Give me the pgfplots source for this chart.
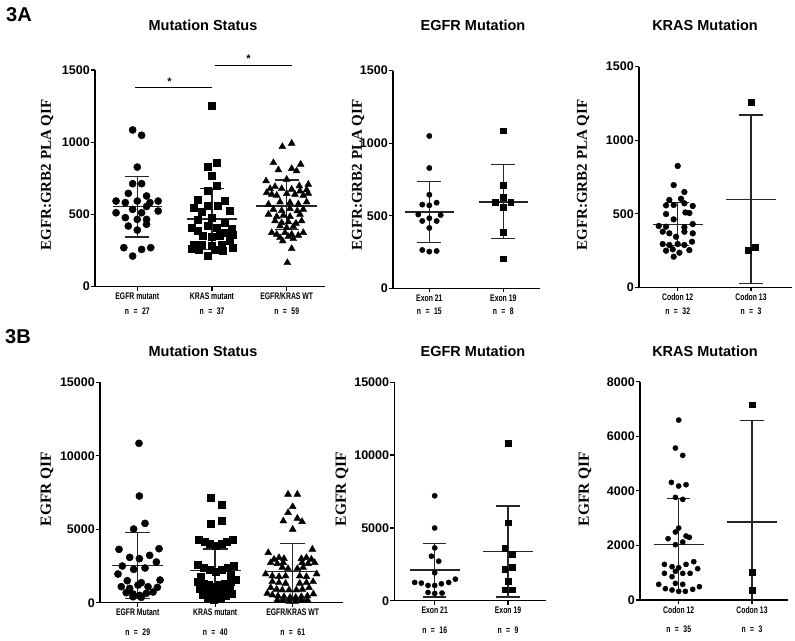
\documentclass[border=0pt]{standalone}
\usepackage{pgfplots}
\pgfplotsset{compat=1.18}
\usepackage{fontspec}
\setmainfont{Liberation Sans}
\newfontfamily\serifb{Liberation Serif}
\newfontfamily\narrow{Liberation Sans}[FakeStretch=0.72]
\newcommand{\nn}[1]{n\hspace{4.5pt}=\hspace{4.5pt}#1}
\pgfplotsset{
  panel/.style={scale only axis, clip=false, anchor=south west,
    axis x line=bottom, axis y line=left,
    axis line style={-, line width=1.3pt, black},
    tick align=outside, major tick length=4pt,
    tick style={line width=1.3pt, black},
    ymin=0, minor tick num=0, scaled y ticks=false,
    yticklabel style={font=\bfseries\fontsize{12.5}{13}\selectfont, inner sep=1pt},
    xticklabel style={font=\narrow\bfseries\fontsize{9.5}{9.5}\selectfont, align=center, anchor=north, inner sep=2pt},
    /pgf/number format/1000 sep={},
    /pgf/number format/assume math mode=true},
  circ/.style={only marks, mark=*, mark size=#1, black, mark options={fill=black}},
  sq/.style={only marks, mark=square*, mark size=#1, black, mark options={fill=black}},
  tri/.style={only marks, mark=triangle*, mark size=#1, black, mark options={fill=black}},
  eb/.style={line width=1.5pt, black!85, no markers}
}
\begin{document}
\begin{tikzpicture}[x=1pt,y=1pt]
\useasboundingbox (0,0) rectangle (795,640);
% ---------- labels ----------
\node[font=\bfseries\fontsize{20}{20}\selectfont] at (19,625) {3A};
\node[font=\bfseries\fontsize{20}{20}\selectfont] at (18,303) {3B};
\foreach \yy in {615,288.3}{
  \node[font=\bfseries\fontsize{14.5}{15}\selectfont] at (203,\yy) {Mutation Status};
  \node[font=\bfseries\fontsize{14.5}{15}\selectfont] at (473,\yy) {EGFR Mutation};
  \node[font=\bfseries\fontsize{14.5}{15}\selectfont] at (705,\yy) {KRAS Mutation};
}
\node[rotate=90, font=\serifb\bfseries\fontsize{15}{15}\selectfont] at (47,465) {EGFR:GRB2 PLA QIF};
\node[rotate=90, font=\serifb\bfseries\fontsize{15}{15}\selectfont] at (358,465) {EGFR:GRB2 PLA QIF};
\node[rotate=90, font=\serifb\bfseries\fontsize{15}{15}\selectfont] at (583,465) {EGFR:GRB2 PLA QIF};
\node[rotate=90, font=\serifb\bfseries\fontsize{15.5}{15}\selectfont] at (47,151) {EGFR QIF};
\node[rotate=90, font=\serifb\bfseries\fontsize{15.5}{15}\selectfont] at (342,151) {EGFR QIF};
\node[rotate=90, font=\serifb\bfseries\fontsize{15.5}{15}\selectfont] at (585,151) {EGFR QIF};

% ================= 3A Mutation Status =================
\begin{axis}[panel, at={(95pt,353.3pt)}, width=230pt, height=216.7pt,
  xmin=0.434, xmax=3.513, ymax=1500, ytick={0,500,1000,1500},
  xtick={1,2,3},
  xticklabels={{EGFR mutant\\[5pt]\nn{27}},{KRAS mutant\\[5pt]\nn{37}},{EGFR/KRAS WT\\[5pt]\nn{59}}}]
\addplot[circ=3.6pt] coordinates {
(0.938,1085) (1.058,1048) (1.0,828) (0.938,713) (1.058,713) (0.88,646) (1.124,628)
(0.716,593) (0.84,582) (1.0,593) (1.169,582) (1.28,593) (0.716,512) (0.938,535)
(1.058,512) (1.28,524) (0.84,478) (1.0,466) (1.124,466) (0.88,420) (1.124,432)
(1.0,392) (0.82,270) (1.058,258) (1.18,270) (0.938,212) (1.124,555)};
\addplot[sq=3.5pt] coordinates {
(2.0,1255) (2.058,858) (1.938,831) (2.0,766) (2.058,702) (1.947,662) (1.813,605)
(2.169,593) (1.751,545) (1.938,558) (2.08,558) (2.236,524) (1.867,517) (2.0,478)
(1.813,466) (2.169,443) (1.724,408) (1.938,420) (2.058,408) (2.258,401) (1.813,385)
(2.169,374) (1.88,351) (2.0,346) (2.102,351) (2.236,316) (1.756,293) (1.867,293)
(2.124,293) (2.0,282) (1.724,265) (2.28,270) (1.822,254) (2.036,254) (1.947,217)
(2.147,247) (2.28,362)};
\addplot[tri=4pt] coordinates {
(2.942,969) (3.067,992) (2.822,858) (3.187,847) (2.889,808) (3.067,817) (3.133,801)
(2.724,732) (3.0,743) (3.169,697) (3.289,708)
(2.778,678) (2.844,692) (2.933,678) (3.067,674) (3.178,662) (3.267,669)
(2.733,651) (2.8,639) (2.867,632) (3.0,644) (3.111,639) (3.222,632) (3.289,646)
(2.756,570) (2.911,586) (3.044,582) (3.156,572) (3.267,586)
(2.822,535) (2.933,526) (3.044,540) (3.142,524) (3.222,535)
(2.756,501) (2.867,485) (2.956,494) (3.044,485) (3.178,501)
(2.844,455) (2.933,443) (3.022,448) (3.124,438) (3.2,455)
(2.911,420) (3.0,408) (3.089,415)
(2.8,374) (2.867,362) (2.978,374) (3.067,362) (3.156,355) (3.222,374)
(2.911,339) (3.022,346) (3.089,332) (2.947,316) (3.067,263) (3.009,166)};
% mean and SD
\addplot[eb] coordinates {(0.67,554) (1.33,554)};
\addplot[eb] coordinates {(1,344) (1,762)};
\addplot[eb] coordinates {(0.84,762) (1.16,762)};
\addplot[eb] coordinates {(0.84,344) (1.16,344)};
\addplot[eb] coordinates {(1.67,468) (2.33,468)};
\addplot[eb] coordinates {(2,256) (2,681)};
\addplot[eb] coordinates {(1.84,681) (2.16,681)};
\addplot[eb] coordinates {(1.84,256) (2.16,256)};
\addplot[eb] coordinates {(2.59,558) (3.41,558)};
\addplot[eb] coordinates {(3,397) (3,738)};
\addplot[eb] coordinates {(2.84,738) (3.16,738)};
\addplot[eb] coordinates {(2.84,397) (3.16,397)};
% significance
\addplot[line width=1pt, black, no markers] coordinates {(0.969,1378) (2.0,1378)};
\addplot[line width=1pt, black, no markers] coordinates {(2.036,1532) (3.076,1532)};
\node[font=\bfseries\fontsize{11}{11}\selectfont] at (axis cs:1.43,1420) {*};
\node[font=\bfseries\fontsize{11}{11}\selectfont] at (axis cs:2.49,1575) {*};
\end{axis}

% ================= 3A EGFR Mutation =================
\begin{axis}[panel, at={(393pt,351.7pt)}, width=147pt, height=217.6pt,
  xmin=0.509, xmax=2.496, ymax=1500, ytick={0,500,1000,1500},
  xtick={1,2},
  xticklabels={{Exon 21\\[4pt]\nn{15}},{Exon 19\\[4pt]\nn{8}}}]
\addplot[circ=2.7pt] coordinates {
(1.0,1050) (1.0,829) (1.0,645) (0.905,577) (1.0,572) (1.099,590) (0.851,509)
(1.153,505) (0.905,464) (1.0,483) (1.099,464) (1.0,416) (0.905,264) (1.0,253) (1.099,257)};
\addplot[sq=2.8pt] coordinates {
(2.0,1087) (2.0,710) (2.0,627) (1.892,595) (2.099,595) (2.0,560) (2.0,385) (2.0,205)};
\addplot[eb] coordinates {(0.67,526) (1.33,526)};
\addplot[eb] coordinates {(1,315) (1,737)};
\addplot[eb] coordinates {(0.84,737) (1.16,737)};
\addplot[eb] coordinates {(0.84,315) (1.16,315)};
\addplot[eb] coordinates {(1.67,595) (2.33,595)};
\addplot[eb] coordinates {(2,342) (2,852)};
\addplot[eb] coordinates {(1.84,852) (2.16,852)};
\addplot[eb] coordinates {(1.84,342) (2.16,342)};
\end{axis}

% ================= 3A KRAS Mutation =================
\begin{axis}[panel, at={(639pt,352.7pt)}, width=152.7pt, height=220.6pt,
  xmin=0.472, xmax=2.555, ymax=1500, ytick={0,500,1000,1500},
  xtick={1,2},
  xticklabels={{Codon 12\\[5pt]\nn{32}},{Codon 13\\[5pt]\nn{3}}}]
\addplot[circ=2.9pt] coordinates {
(1.0,825) (0.945,695) (1.091,648) (0.886,594) (1.045,602) (0.841,557) (0.945,560)
(1.091,571) (1.205,553) (0.841,498) (1.105,509) (1.159,505) (0.945,462)
(0.741,417) (0.841,412) (1.091,408) (1.205,430) (0.795,378) (0.886,367)
(1.091,378) (1.205,367) (0.977,344) (0.795,294) (0.886,288) (1.0,294)
(1.091,288) (1.195,310) (0.841,249) (0.932,258) (1.023,235) (1.159,253) (0.945,208)};
\addplot[sq=3pt] coordinates {(2.0,1259) (1.955,254) (2.059,276)};
\addplot[eb] coordinates {(0.66,428) (1.34,428)};
\addplot[eb] coordinates {(1,285) (1,578)};
\addplot[eb] coordinates {(0.84,578) (1.16,578)};
\addplot[eb] coordinates {(0.84,285) (1.16,285)};
\addplot[eb] coordinates {(1.66,598) (2.34,598)};
\addplot[eb] coordinates {(2,27) (2,1171)};
\addplot[eb] coordinates {(1.84,1171) (2.16,1171)};
\addplot[eb] coordinates {(1.84,27) (2.16,27)};
\end{axis}

% ================= 3B Mutation Status =================
\begin{axis}[panel, at={(100pt,37.3pt)}, width=243.3pt, height=220.4pt,
  xmin=0.514, xmax=3.653, ymax=15000, ytick={0,5000,10000,15000},
  xtick={1,2,3},
  xticklabels={{EGFR Mutant\\[10pt]\nn{29}},{KRAS mutant\\[10pt]\nn{40}},{EGFR/KRAS WT\\[10pt]\nn{61}}}]
\addplot[circ=3.6pt] coordinates {
(1.017,10846) (1.022,7261) (0.948,5015) (1.095,5400) (0.759,3630) (1.276,3676)
(0.897,3086) (1.022,2995) (1.155,3222) (0.802,2496) (0.948,2269) (1.095,2360)
(1.241,2768) (0.746,1951) (0.866,1498) (1.047,1361) (1.289,1543) (0.789,1089)
(0.897,976) (1.004,1203) (1.134,1089) (1.254,1044) (0.853,681) (0.94,590)
(1.026,499) (1.112,635) (1.198,726) (0.94,408) (1.047,363)};
\addplot[sq=3.5pt] coordinates {
(1.94,7170) (2.086,6648) (1.94,5355) (2.086,5559)
(1.793,4266) (1.866,4152) (1.935,4039) (2.009,3903) (2.082,4039) (2.151,4152) (2.224,4266)
(1.772,2609) (1.849,2405) (1.927,2224) (2.009,2110) (2.086,2269) (2.159,2405) (2.237,2541)
(1.78,1429) (1.849,1316) (1.918,1203) (1.987,1089) (2.056,1203) (2.125,1316) (2.194,1429) (2.259,1543)
(1.806,976) (1.879,862) (1.953,749) (2.03,681) (2.108,817) (2.181,976)
(1.836,522) (1.909,363) (1.987,227) (2.065,295) (2.138,454) (2.211,590)
(1.815,1770) (2.203,1883)};
\addplot[tri=4pt] coordinates {
(2.94,7374) (3.06,7374) (3.0,6535) (2.94,6126) (3.06,5740) (2.879,5559) (3.121,5514) (3.0,4992)
(2.685,3404) (3.254,3630)
(2.759,2950) (2.823,3063) (2.888,2995) (3.112,2995) (3.177,3063) (3.241,2950)
(2.716,2723) (2.802,2655) (2.879,2723) (3.121,2723) (3.198,2655) (3.284,2723)
(2.866,2405) (2.94,2314) (3.06,2314) (3.134,2405)
(2.651,1951) (2.737,1815) (2.823,1770) (2.909,1815) (3.091,1815) (3.177,1770) (3.31,1951)
(2.737,1429) (2.823,1361) (2.909,1316) (3.091,1316) (3.177,1361) (3.263,1429)
(2.716,1021) (2.793,908) (2.866,862) (2.953,862) (3.047,862) (3.125,908) (3.211,1021)
(2.672,635) (2.737,522) (2.81,454) (2.888,408) (2.966,363) (3.039,363) (3.112,408) (3.19,454) (3.267,590)
(2.802,182) (2.879,136) (2.957,91) (3.034,91) (3.112,136) (3.19,182)};
\addplot[eb] coordinates {(0.67,2519) (1.33,2519)};
\addplot[eb] coordinates {(1,272) (1,4788)};
\addplot[eb] coordinates {(0.84,4788) (1.16,4788)};
\addplot[eb] coordinates {(0.84,272) (1.16,272)};
\addplot[eb] coordinates {(1.67,2190) (2.33,2190)};
\addplot[eb] coordinates {(2,740) (2,3650)};
\addplot[eb] coordinates {(1.84,3650) (2.16,3650)};
\addplot[eb] coordinates {(1.84,740) (2.16,740)};
\addplot[eb] coordinates {(2.67,2110) (3.33,2110)};
\addplot[eb] coordinates {(3,180) (3,4039)};
\addplot[eb] coordinates {(2.84,4039) (3.16,4039)};
\addplot[eb] coordinates {(2.84,180) (3.16,180)};
\end{axis}

% ================= 3B EGFR Mutation =================
\begin{axis}[panel, at={(394.3pt,39.3pt)}, width=151.4pt, height=218.4pt,
  xmin=0.449, xmax=2.514, ymax=15000, ytick={0,5000,10000,15000},
  xtick={1,2},
  xticklabels={{Exon 21\\[10pt]\nn{16}},{Exon 19\\[10pt]\nn{9}}}]
\addplot[circ=2.6pt] coordinates {
(1.0,7205) (1.0,4993) (1.0,3625) (0.955,3055) (1.055,2713) (1.0,1915)
(0.727,1254) (0.818,1208) (0.909,1049) (1.0,1049) (1.091,1163) (1.191,1254) (1.282,1482)
(0.909,570) (1.0,502) (1.1,524)};
\addplot[sq=2.9pt] coordinates {
(2.0,10807) (2.0,5358) (1.955,3625) (2.055,3192) (1.955,2166) (2.055,2326) (2.0,1345) (1.955,752) (2.055,752)};
\addplot[eb] coordinates {(0.66,2098) (1.34,2098)};
\addplot[eb] coordinates {(1,251) (1,3944)};
\addplot[eb] coordinates {(0.84,3944) (1.16,3944)};
\addplot[eb] coordinates {(0.84,251) (1.16,251)};
\addplot[eb] coordinates {(1.66,3374) (2.34,3374)};
\addplot[eb] coordinates {(2,251) (2,6521)};
\addplot[eb] coordinates {(1.84,6521) (2.16,6521)};
\addplot[eb] coordinates {(1.84,251) (2.16,251)};
\end{axis}

% ================= 3B KRAS Mutation =================
\begin{axis}[panel, at={(640pt,40pt)}, width=148.3pt, height=218.3pt,
  xmin=0.472, xmax=2.495, ymax=8000, ytick={0,2000,4000,6000,8000},
  xtick={1,2},
  xticklabels={{Codon 12\\[10pt]\nn{35}},{Codon 13\\[10pt]\nn{3}}}]
\addplot[circ=2.6pt] coordinates {
(1.0,6593) (0.955,5568) (1.055,5299) (0.9,4310) (1.0,4176) (1.1,4225) (0.955,3761) (1.055,3687)
(1.0,2637) (0.955,2491) (1.1,2344) (1.145,2296) (0.855,2247) (0.955,2027) (1.055,2125)
(0.805,1306) (0.909,1221) (1.0,1184) (1.1,1306) (1.205,1404)
(0.805,977) (0.909,855) (0.955,1050) (1.055,977) (1.155,977) (1.259,1148)
(0.727,574) (0.818,415) (0.909,366) (0.955,610) (1.0,317) (1.055,574) (1.091,317) (1.191,391) (1.282,488)};
\addplot[sq=2.9pt] coordinates {(2.0,7155) (2.0,1026) (2.0,366)};
\addplot[eb] coordinates {(0.66,2027) (1.34,2027)};
\addplot[eb] coordinates {(1,342) (1,3712)};
\addplot[eb] coordinates {(0.84,3712) (1.16,3712)};
\addplot[eb] coordinates {(1.66,2857) (2.34,2857)};
\addplot[eb] coordinates {(2,0) (2,6581)};
\addplot[eb] coordinates {(1.84,6581) (2.16,6581)};
\end{axis}
\end{tikzpicture}
\end{document}
